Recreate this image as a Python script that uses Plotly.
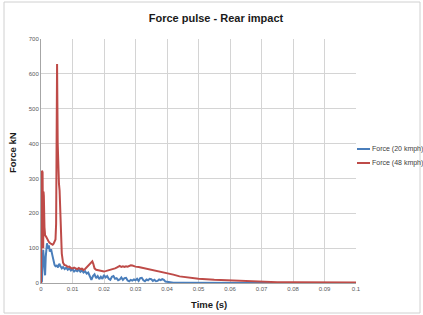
import plotly.graph_objects as go

# ---- data ----
t_20 = [0, 0.0003, 0.0005, 0.0007, 0.0009, 0.0011, 0.0013, 0.0015, 0.0017, 0.0019,
        0.0022, 0.0025, 0.0028, 0.0032, 0.0036, 0.004, 0.0043, 0.0046, 0.005, 0.0054,
        0.0058, 0.0062, 0.0066, 0.007, 0.0075, 0.008, 0.0085, 0.009, 0.0095, 0.01,
        0.0105, 0.011, 0.0115, 0.012, 0.0125, 0.013, 0.0135, 0.014, 0.0145, 0.015,
        0.0155, 0.016, 0.0165, 0.017, 0.0175, 0.018, 0.0185, 0.019, 0.0195, 0.02,
        0.0205, 0.021, 0.0215, 0.022, 0.0225, 0.023, 0.0235, 0.024, 0.0245, 0.025,
        0.0255, 0.026, 0.0265, 0.027, 0.0275, 0.028, 0.0285, 0.029, 0.0295, 0.03,
        0.0305, 0.031, 0.0315, 0.032, 0.0325, 0.033, 0.0335, 0.034, 0.0345, 0.035,
        0.0355, 0.036, 0.0365, 0.037, 0.0375, 0.038, 0.0385, 0.039, 0.0395, 0.04,
        0.041, 0.042, 0.045, 0.05, 0.06, 0.07, 0.08, 0.1]
f_20 = [0, 5, 60, 95, 70, 40, 22, 75, 105, 114,
        98, 108, 90, 97, 80, 62, 52, 48, 50, 45,
        55, 48, 42, 46, 40, 44, 38, 42, 36, 40,
        33, 37, 34, 38, 32, 36, 30, 34, 27, 30,
        18, 9, 20, 25, 14, 20, 11, 18, 12, 23,
        16, 20, 12, 9, 18, 20, 12, 14, 8, 10,
        16, 9, 14, 15, 7, 5, 9, 7, 10, 8,
        12, 6, 14, 15, 8, 5, 10, 8, 12, 11,
        6, 9, 5, 6, 10, 8, 11, 9, 4, 3,
        2, 1, 1, 0.5, 0.5, 0.3, 0.2, 0]

t_48 = [0, 0.0002, 0.0003, 0.0005, 0.0006, 0.0007, 0.0008, 0.0009, 0.0011, 0.0013,
        0.0016, 0.0019, 0.0022, 0.0025, 0.0029, 0.0033, 0.0037, 0.004, 0.0043, 0.0046,
        0.0048, 0.005, 0.0051, 0.0053, 0.0055, 0.0057, 0.0059, 0.006, 0.0062, 0.0064,
        0.0066, 0.007, 0.0074, 0.008, 0.0085, 0.009, 0.0095, 0.01, 0.0105, 0.011,
        0.0115, 0.012, 0.0125, 0.013, 0.0135, 0.014, 0.0145, 0.015, 0.0155, 0.016,
        0.0163, 0.0166, 0.017, 0.0175, 0.018, 0.0185, 0.019, 0.0195, 0.02, 0.0205,
        0.021, 0.0215, 0.022, 0.0225, 0.023, 0.0235, 0.024, 0.0245, 0.025, 0.0255,
        0.026, 0.0265, 0.027, 0.0275, 0.028, 0.0285, 0.029, 0.0295, 0.03, 0.031,
        0.032, 0.033, 0.034, 0.035, 0.036, 0.037, 0.038, 0.039, 0.04, 0.042,
        0.044, 0.046, 0.048, 0.05, 0.055, 0.06, 0.065, 0.07, 0.075, 0.08,
        0.09, 0.1]
f_48 = [0, 150, 322, 318, 200, 100, 262, 250, 160, 137,
        133, 128, 120, 118, 114, 112, 110, 113, 118, 125,
        170, 500, 628, 400, 292, 285, 265, 230, 150, 100,
        84, 58, 52, 50, 46, 47, 43, 42, 44, 42,
        40, 43, 40, 41, 37, 40, 45, 48, 55, 58,
        62, 55, 42, 38, 37, 36, 33, 32, 33, 34,
        35, 36, 37, 39, 40, 42, 44, 47, 49, 46,
        48, 46, 48, 47, 50, 51, 50, 48, 47, 46,
        44, 43, 41, 39, 37, 35, 33, 31, 28, 24,
        19, 16, 14, 12, 9, 7, 5, 3.5, 2.5, 2,
        1.5, 1.2]

series_names = ["Force (20 kmph)", "Force (48 kmph)"]
colors = ["#4a7ebb", "#be4b48"]

W, H = 423, 315
L, R, T, B = 41, 67, 39, 32
pw, ph = W - L - R, H - T - B

def px_x(p):
    return (p - L) / pw

def px_y(p):
    return (H - B - p) / ph

fig = go.Figure()
fig.add_trace(go.Scatter(x=t_20, y=f_20, mode="lines", name=series_names[0],
                         line=dict(color=colors[0], width=2), showlegend=False))
fig.add_trace(go.Scatter(x=t_48, y=f_48, mode="lines", name=series_names[1],
                         line=dict(color=colors[1], width=2), showlegend=False))

font = "Liberation Sans, Arial, sans-serif"
fig.update_layout(
    width=W, height=H,
    margin=dict(l=L, r=R, t=T, b=B),
    paper_bgcolor="white", plot_bgcolor="white",
    font=dict(family=font, color="#595959", size=6),
    title=dict(text="<b>Force pulse - Rear impact</b>", x=216 / W, xanchor="center",
               y=1 - 18 / H, yanchor="middle", font=dict(size=11, color="#1a1a1a")),
    xaxis=dict(range=[0, 0.1], showgrid=True, gridcolor="#d4d4d4",
               gridwidth=1, zeroline=False, showline=True, linecolor="#a6a6a6",
               ticks="", tickfont=dict(size=6, color="#595959"),
               tickvals=[0, 0.01, 0.02, 0.03, 0.04, 0.05, 0.06, 0.07, 0.08, 0.09, 0.1],
               ticktext=["0", "0.01", "0.02", "0.03", "0.04", "0.05", "0.06", "0.07", "0.08", "0.09", "0.1"]),
    yaxis=dict(range=[0, 700], dtick=100, showgrid=True, gridcolor="#d4d4d4", gridwidth=1,
               zeroline=False, showline=True, linecolor="#a6a6a6", ticks="",
               tickfont=dict(size=6, color="#595959")),
    showlegend=False,
)

# axis titles
fig.add_annotation(text="<b>Time (s)</b>", xref="paper", yref="paper",
                   x=px_x(209), y=px_y(304), xanchor="center", yanchor="middle",
                   showarrow=False, font=dict(size=9.5, color="#1a1a1a", family=font))
fig.add_annotation(text="<b>Force kN</b>", xref="paper", yref="paper",
                   x=px_x(12), y=px_y(152), xanchor="center", yanchor="middle",
                   textangle=-90, showarrow=False,
                   font=dict(size=9.5, color="#1a1a1a", family=font))

# legend (manual)
leg_y = [149, 163]
for name, c, yy in zip(series_names, colors, leg_y):
    fig.add_shape(type="line", xref="paper", yref="paper",
                  x0=px_x(357), x1=px_x(370), y0=px_y(yy), y1=px_y(yy),
                  line=dict(color=c, width=2))
    fig.add_annotation(text=name, xref="paper", yref="paper", x=px_x(370), y=px_y(yy),
                       xanchor="left", yanchor="middle", showarrow=False,
                       font=dict(size=7, color="#404040", family=font))

# outer chart border
fig.add_shape(type="rect", xref="paper", yref="paper",
              x0=px_x(4), x1=px_x(420), y0=px_y(313), y1=px_y(2),
              line=dict(color="#d0d0d0", width=1), fillcolor="rgba(0,0,0,0)", layer="below")

fig.write_html("out.html", config={"displayModeBar": False},
               post_script="document.body.style.margin='0';document.body.style.padding='0';")
